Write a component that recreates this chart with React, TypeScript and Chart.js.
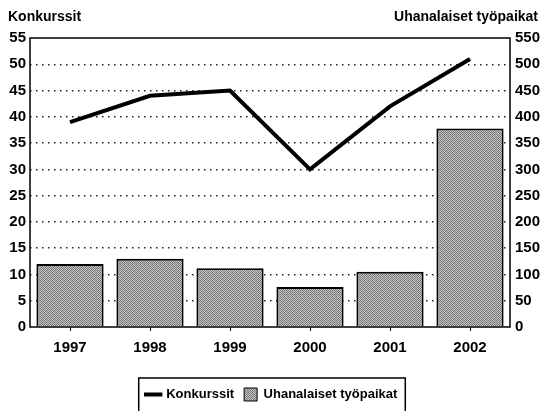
import React, { useEffect, useRef } from "react";
import { Chart, registerables } from "chart.js";

Chart.register(...registerables);

const years = ["1997", "1998", "1999", "2000", "2001", "2002"];
const konkurssit = [39, 44, 45, 30, 42, 51];
const tyopaikat = [120, 130, 112, 76, 105, 378];
const leftTitle = "Konkurssit";
const rightTitle = "Uhanalaiset työpaikat";
const lineLabel = "Konkurssit";
const barLabel = "Uhanalaiset työpaikat";

const FONT = "'Liberation Sans', Arial, sans-serif";

function makePattern(): CanvasPattern | string {
  const c = document.createElement("canvas");
  c.width = 4;
  c.height = 4;
  const g = c.getContext("2d");
  if (!g) return "#9c9c9c";
  const cells = [
    ["#6e6e6e", "#c8c8c8", "#7a7a7a", "#bdbdbd"],
    ["#c2c2c2", "#848484", "#cccccc", "#747474"],
    ["#7c7c7c", "#b8b8b8", "#707070", "#c6c6c6"],
    ["#cacaca", "#787878", "#bebebe", "#808080"],
  ];
  for (let y = 0; y < 4; y++)
    for (let x = 0; x < 4; x++) {
      g.fillStyle = cells[y][x];
      g.fillRect(x, y, 1, 1);
    }
  return g.createPattern(c, "repeat") || "#9c9c9c";
}

const framePlugin = {
  id: "frameAndTitles",
  afterDatasetsDraw(chart: any) {
    const { ctx, chartArea } = chart;
    ctx.save();
    ctx.strokeStyle = "#000";
    ctx.lineWidth = 1.5;
    ctx.strokeRect(chartArea.left, chartArea.top, chartArea.right - chartArea.left, chartArea.bottom - chartArea.top);
    ctx.restore();
  },
  afterDraw(chart: any) {
    const { ctx } = chart;
    ctx.save();
    ctx.fillStyle = "#000";
    ctx.font = `bold 14px ${FONT}`;
    ctx.textBaseline = "middle";
    ctx.textAlign = "left";
    ctx.fillText(leftTitle, 8, 17);
    ctx.textAlign = "right";
    ctx.fillText(rightTitle, 538, 17);
    const lg = chart.legend;
    if (lg && lg.legendHitBoxes && lg.legendHitBoxes.length) {
      const boxes = lg.legendHitBoxes;
      const l = Math.min(...boxes.map((b: any) => b.left)) - 8;
      const r = Math.max(...boxes.map((b: any) => b.left + b.width)) + 8;
      const t = Math.min(...boxes.map((b: any) => b.top)) - 10;
      ctx.strokeStyle = "#000";
      ctx.lineWidth = 1.5;
      ctx.strokeRect(l, t, r - l, 60);
    }
    ctx.restore();
  },
};

export default function App() {
  const ref = useRef<HTMLCanvasElement | null>(null);
  useEffect(() => {
    document.body.style.margin = "0";
    const canvas = ref.current;
    if (!canvas) return;
    const pattern = makePattern();
    const chart = new Chart(canvas, {
      type: "bar",
      data: {
        labels: years,
        datasets: [
          {
            type: "line",
            label: lineLabel,
            data: konkurssit,
            yAxisID: "y",
            borderColor: "#000",
            backgroundColor: "#000",
            borderWidth: 4,
            pointRadius: 0,
            tension: 0,
            order: 0,
          } as any,
          {
            type: "bar",
            label: barLabel,
            data: tyopaikat,
            yAxisID: "y1",
            backgroundColor: pattern as any,
            borderColor: "#000",
            borderWidth: 2,
            barPercentage: 0.84,
            categoryPercentage: 1,
            order: 1,
          },
        ],
      },
      options: {
        animation: false,
        responsive: true,
        maintainAspectRatio: false,
        layout: { padding: { top: 38, left: 0, right: 0, bottom: 0 } },
        plugins: {
          tooltip: { enabled: false },
          legend: {
            position: "bottom",
            labels: {
              usePointStyle: true,
              color: "#000",
              font: { family: FONT, size: 13, weight: "bold" },
              padding: 10,
              generateLabels: () => [
                {
                  text: lineLabel,
                  fillStyle: "#000",
                  strokeStyle: "#000",
                  lineWidth: 4,
                  pointStyle: "line",
                  datasetIndex: 0,
                  hidden: false,
                },
                {
                  text: barLabel,
                  fillStyle: pattern as any,
                  strokeStyle: "#000",
                  lineWidth: 1,
                  pointStyle: "rect",
                  datasetIndex: 1,
                  hidden: false,
                },
              ],
            },
          },
        },
        scales: {
          x: {
            grid: {
              display: true,
              drawOnChartArea: false,
              drawTicks: true,
              tickLength: 4,
              offset: false,
              color: "#000",
            },
            border: { display: false },
            ticks: {
              color: "#000",
              font: { family: FONT, size: 15, weight: "bold" },
              padding: 8,
            },
            afterFit: (s: any) => {
              s.height = 51;
            },
          },
          y: {
            position: "left",
            min: 0,
            max: 55,
            ticks: {
              stepSize: 5,
              color: "#000",
              font: { family: FONT, size: 15, weight: "bold" },
              padding: 4,
            },
            grid: {
              drawTicks: false,
              lineWidth: 1.5,
              color: (c: any) =>
                c.tick && (c.tick.value === 0 || c.tick.value === 55) ? "rgba(0,0,0,0)" : "#222",
            },
            border: { display: false, dash: [1.5, 4.5] },
            afterFit: (s: any) => {
              s.width = 30;
            },
          },
          y1: {
            position: "right",
            min: 0,
            max: 550,
            ticks: {
              stepSize: 50,
              color: "#000",
              font: { family: FONT, size: 15, weight: "bold" },
              padding: 5,
            },
            grid: { drawOnChartArea: false, drawTicks: false },
            border: { display: false },
            afterFit: (s: any) => {
              s.width = 34;
            },
          },
        },
      },
      plugins: [framePlugin],
    });
    return () => chart.destroy();
  }, []);
  return (
    <div style={{ width: 544, height: 411, position: "relative" }}>
      <canvas ref={ref} />
    </div>
  );
}
